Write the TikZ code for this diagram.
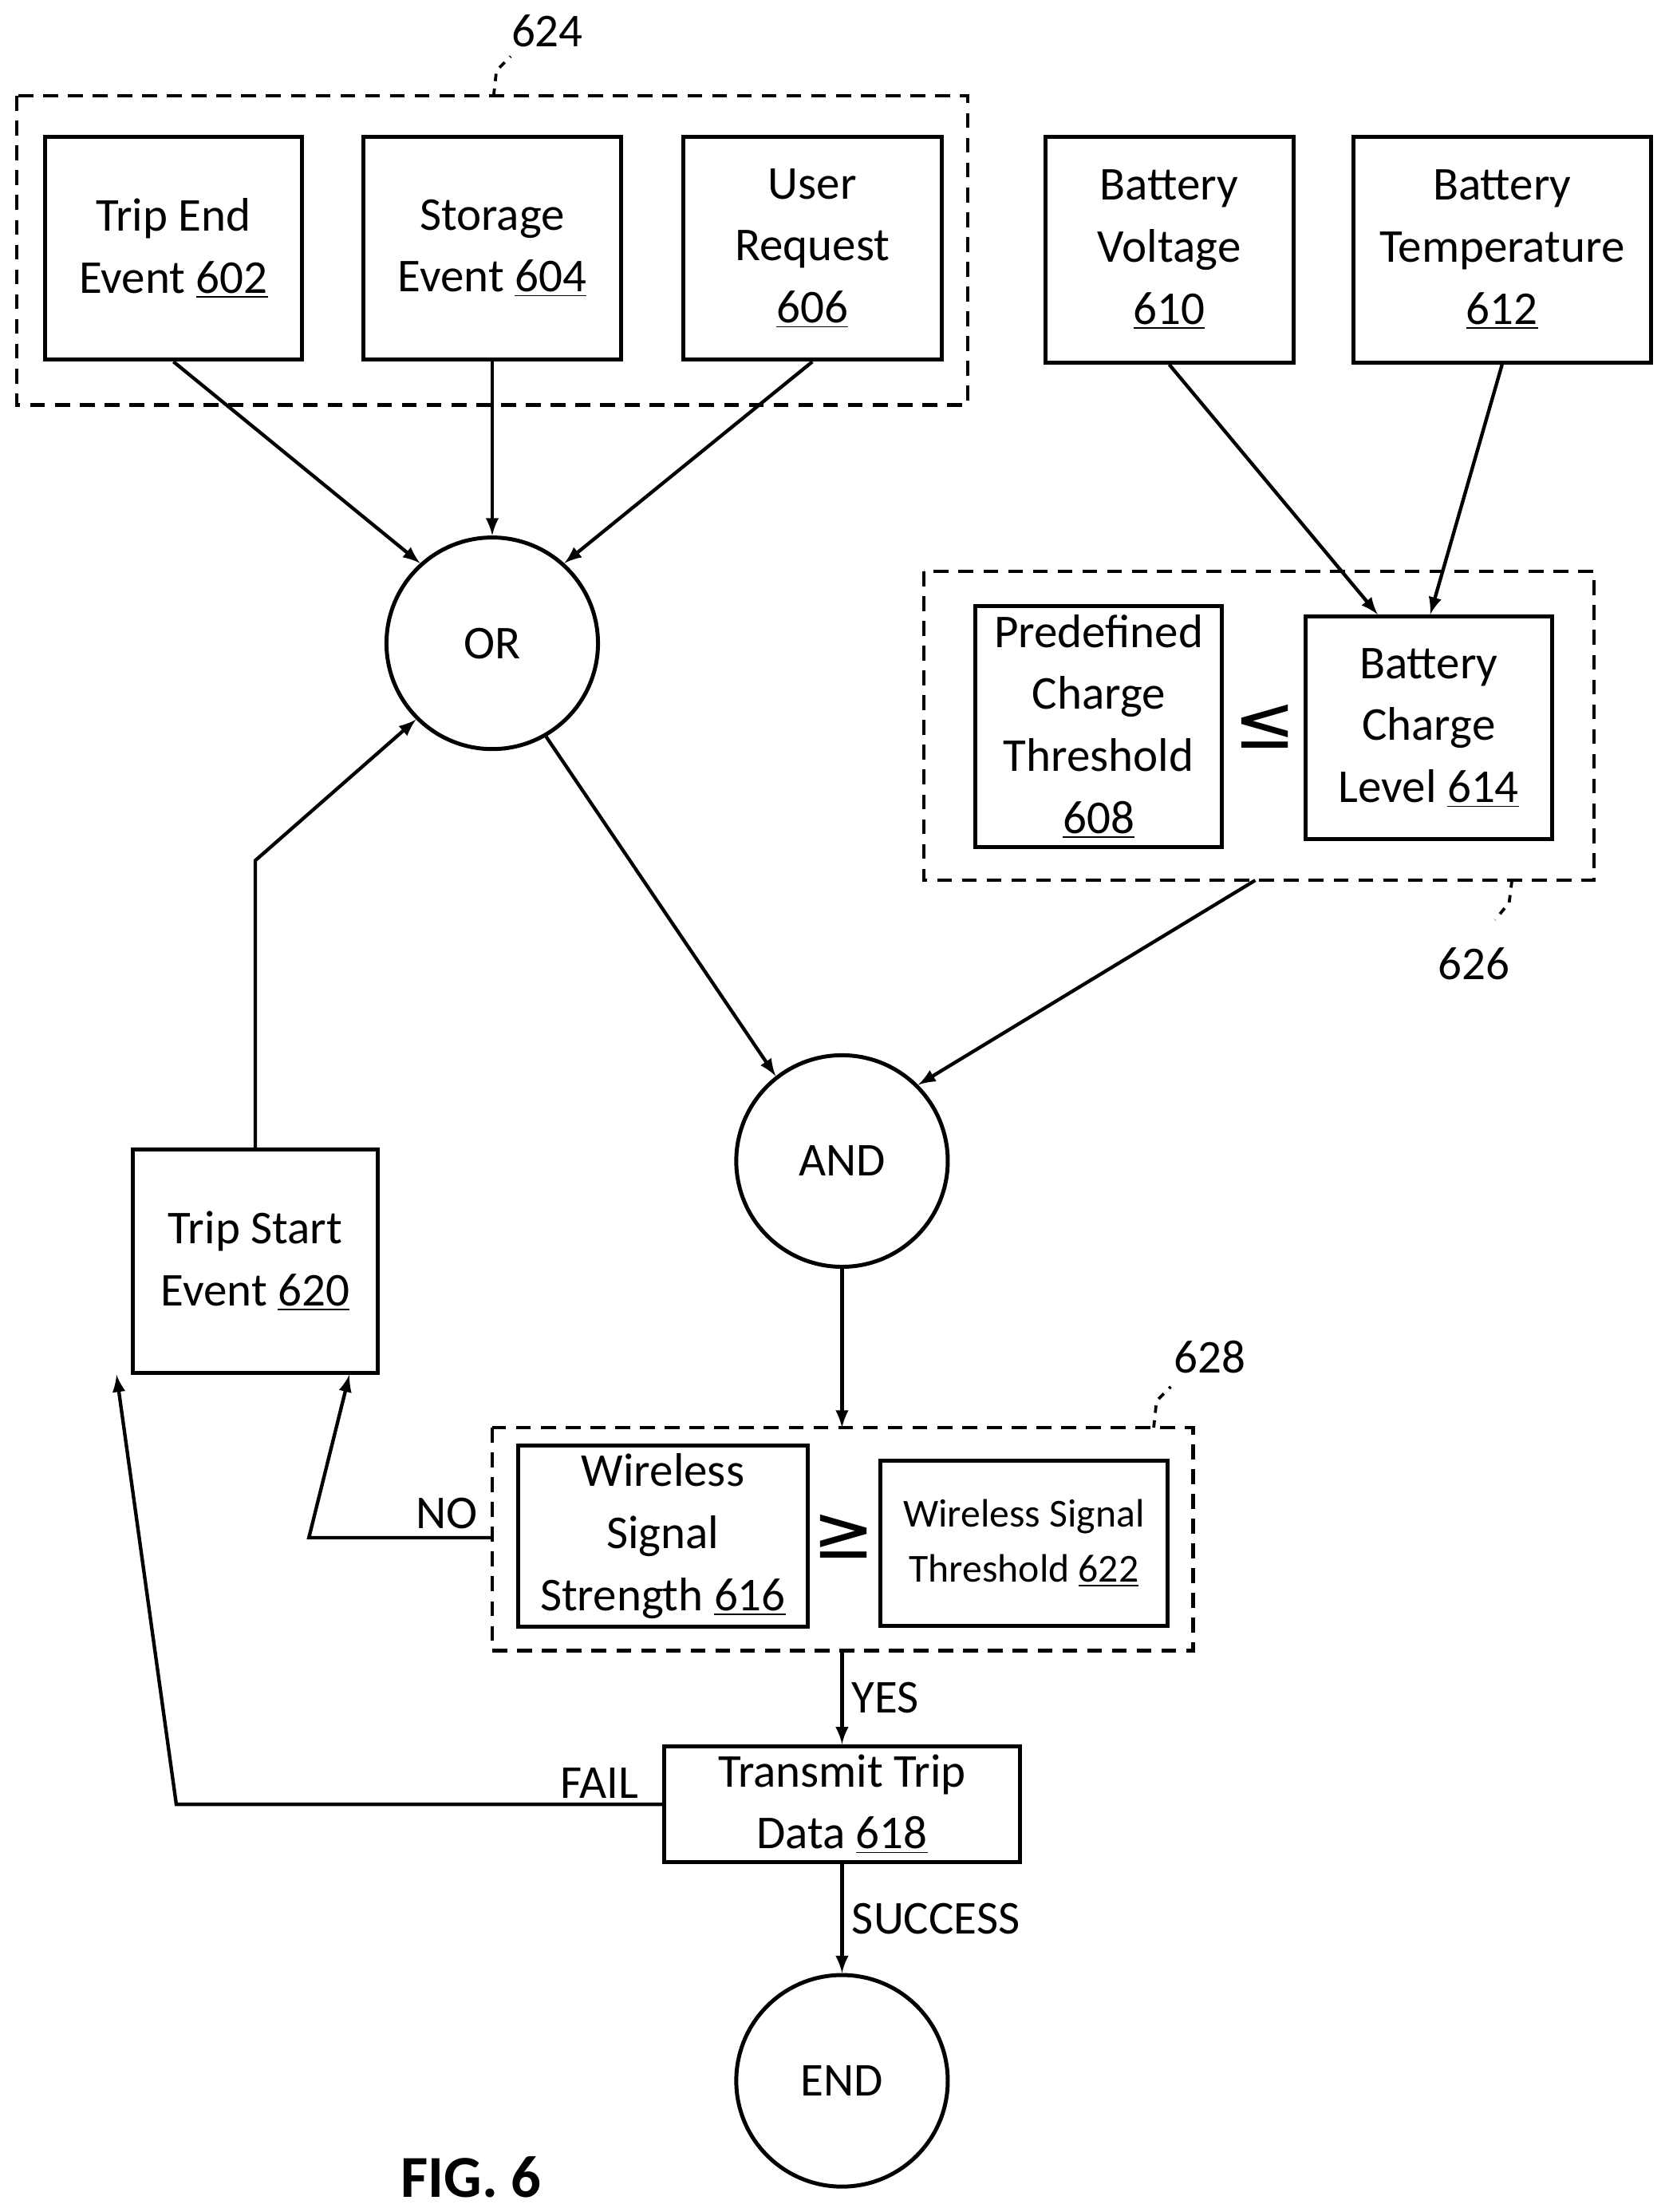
\documentclass[tikz,border=0pt]{standalone}
\usepackage{fontspec}
\setmainfont{Carlito}
\newfontfamily\symfont{DejaVu Sans}
\usetikzlibrary{positioning}
\begin{document}
\begin{tikzpicture}[x=0.02cm, y=-0.02cm,
  box/.style={draw, line width=1.6pt, align=center, font=\fontsize{19}{25}\selectfont},
  gate/.style={circle, draw, line width=1.6pt, minimum size=3cm, font=\fontsize{19}{23}\selectfont},
  group/.style={draw, dashed, line width=1.4pt, dash pattern=on 6pt off 4pt},
  lbl/.style={font=\fontsize{19}{23}\selectfont},
  arr/.style={->, >=latex, line width=1.4pt}]
  \useasboundingbox (0,0) rectangle (1183,1568);

  % top inputs
  \node[box, minimum width=3.64cm, minimum height=3.16cm] (tripend) at (123,176) {Trip End\\Event \underline{602}};
  \node[box, minimum width=3.66cm, minimum height=3.16cm] (storage) at (349,176) {Storage\\Event \underline{604}};
  \node[box, minimum width=3.66cm, minimum height=3.16cm] (request) at (576,176) {User\\Request\\\underline{606}};
  \node[box, minimum width=3.52cm, minimum height=3.2cm] (voltage) at (829,177) {Battery\\Voltage\\\underline{610}};
  \node[box, minimum width=4.22cm, minimum height=3.2cm] (temp) at (1065,177) {Battery\\Temperature\\\underline{612}};
  \draw[group] (12,68) rectangle (686,287);
  \coordinate (g624) at (349,287);
  \draw[line width=1.2pt, dashed] (350,68) -- (352,50) -- (362,40);
  \node[lbl] at (388,22) {624};

  % charge comparison
  \node[box, minimum width=3.5cm, minimum height=3.2cm] (threshold) at (779,515) {Predefined\\Charge\\Threshold\\\underline{608}};
  \node[box, minimum width=3.5cm, minimum height=3.16cm] (charge) at (1013,516) {Battery\\Charge\\Level \underline{614}};
  \node[font=\symfont\fontsize{30}{30}\selectfont] at (897,515) {≤};
  \draw[group] (655,405) rectangle (1130,624);
  \coordinate (g626) at (890,624);
  \draw[line width=1.2pt, dashed] (1072,624) -- (1070,640) -- (1060,652);
  \node[lbl] at (1045,683) {626};

  % gates
  \node[gate] (or) at (349,456) {OR};
  \node[gate] (and) at (597,823) {AND};
  \node[gate] (end) at (597,1475) {END};

  % signal comparison
  \node[box, minimum width=4.1cm, minimum height=2.36cm] (signal) at (470,1089) {Wireless\\Signal\\Strength \underline{616}};
  \node[box, minimum width=4.08cm, minimum height=2.34cm, font=\fontsize{16}{22}\selectfont] (sigthr) at (726,1094) {Wireless Signal\\Threshold \underline{622}};
  \node[font=\symfont\fontsize{30}{30}\selectfont] at (598,1089) {≥};
  \draw[group] (349,1012) rectangle (846,1170);
  \coordinate (g628t) at (597,1012);
  \coordinate (g628l) at (349,1090);
  \coordinate (g628b) at (597,1170);
  \draw[line width=1.2pt, dashed] (818,1012) -- (820,993) -- (830,983);
  \node[lbl] at (858,962) {628};

  \node[box, minimum width=3.48cm, minimum height=3.16cm] (tripstart) at (181,894) {Trip Start\\Event \underline{620}};
  \node[box, minimum width=5.04cm, minimum height=1.56cm] (transmit) at (597,1279) {Transmit Trip\\Data \underline{618}};
  \node[font=\bfseries\fontsize{24}{28}\selectfont] at (334,1543) {FIG. 6};

  % connectors
  \draw[arr] (tripend.south) -- (or.132);
  \draw[arr] (storage.south) -- (or.north);
  \draw[arr] (request.south) -- (or.48);
  \draw[arr] (voltage.south) -- ([xshift=30]charge.north west);
  \draw[arr] (temp.south) -- ([xshift=-50]charge.north east);
  \draw[arr] (or.-60) -- (and.128);
  \draw[arr] (g626) -- (and.45);
  \draw[arr] (and.south) -- (g628t);
  \draw[arr] (g628l) -- (219,1090) -- ([xshift=38]tripstart.south);
  \node[lbl] at (317,1073) {NO};
  \draw[arr] (g628b) -- node[lbl, right] {YES} (transmit.north);
  \draw[arr] (transmit.west) -- (125,1279) -- ([xshift=-56]tripstart.south);
  \node[lbl] at (425,1264) {FAIL};
  \draw[arr] (transmit.south) -- node[lbl, right] {SUCCESS} (end.north);
  \draw[arr] (tripstart.north) -- (181,610) -- (or.225);
\end{tikzpicture}
\end{document}
